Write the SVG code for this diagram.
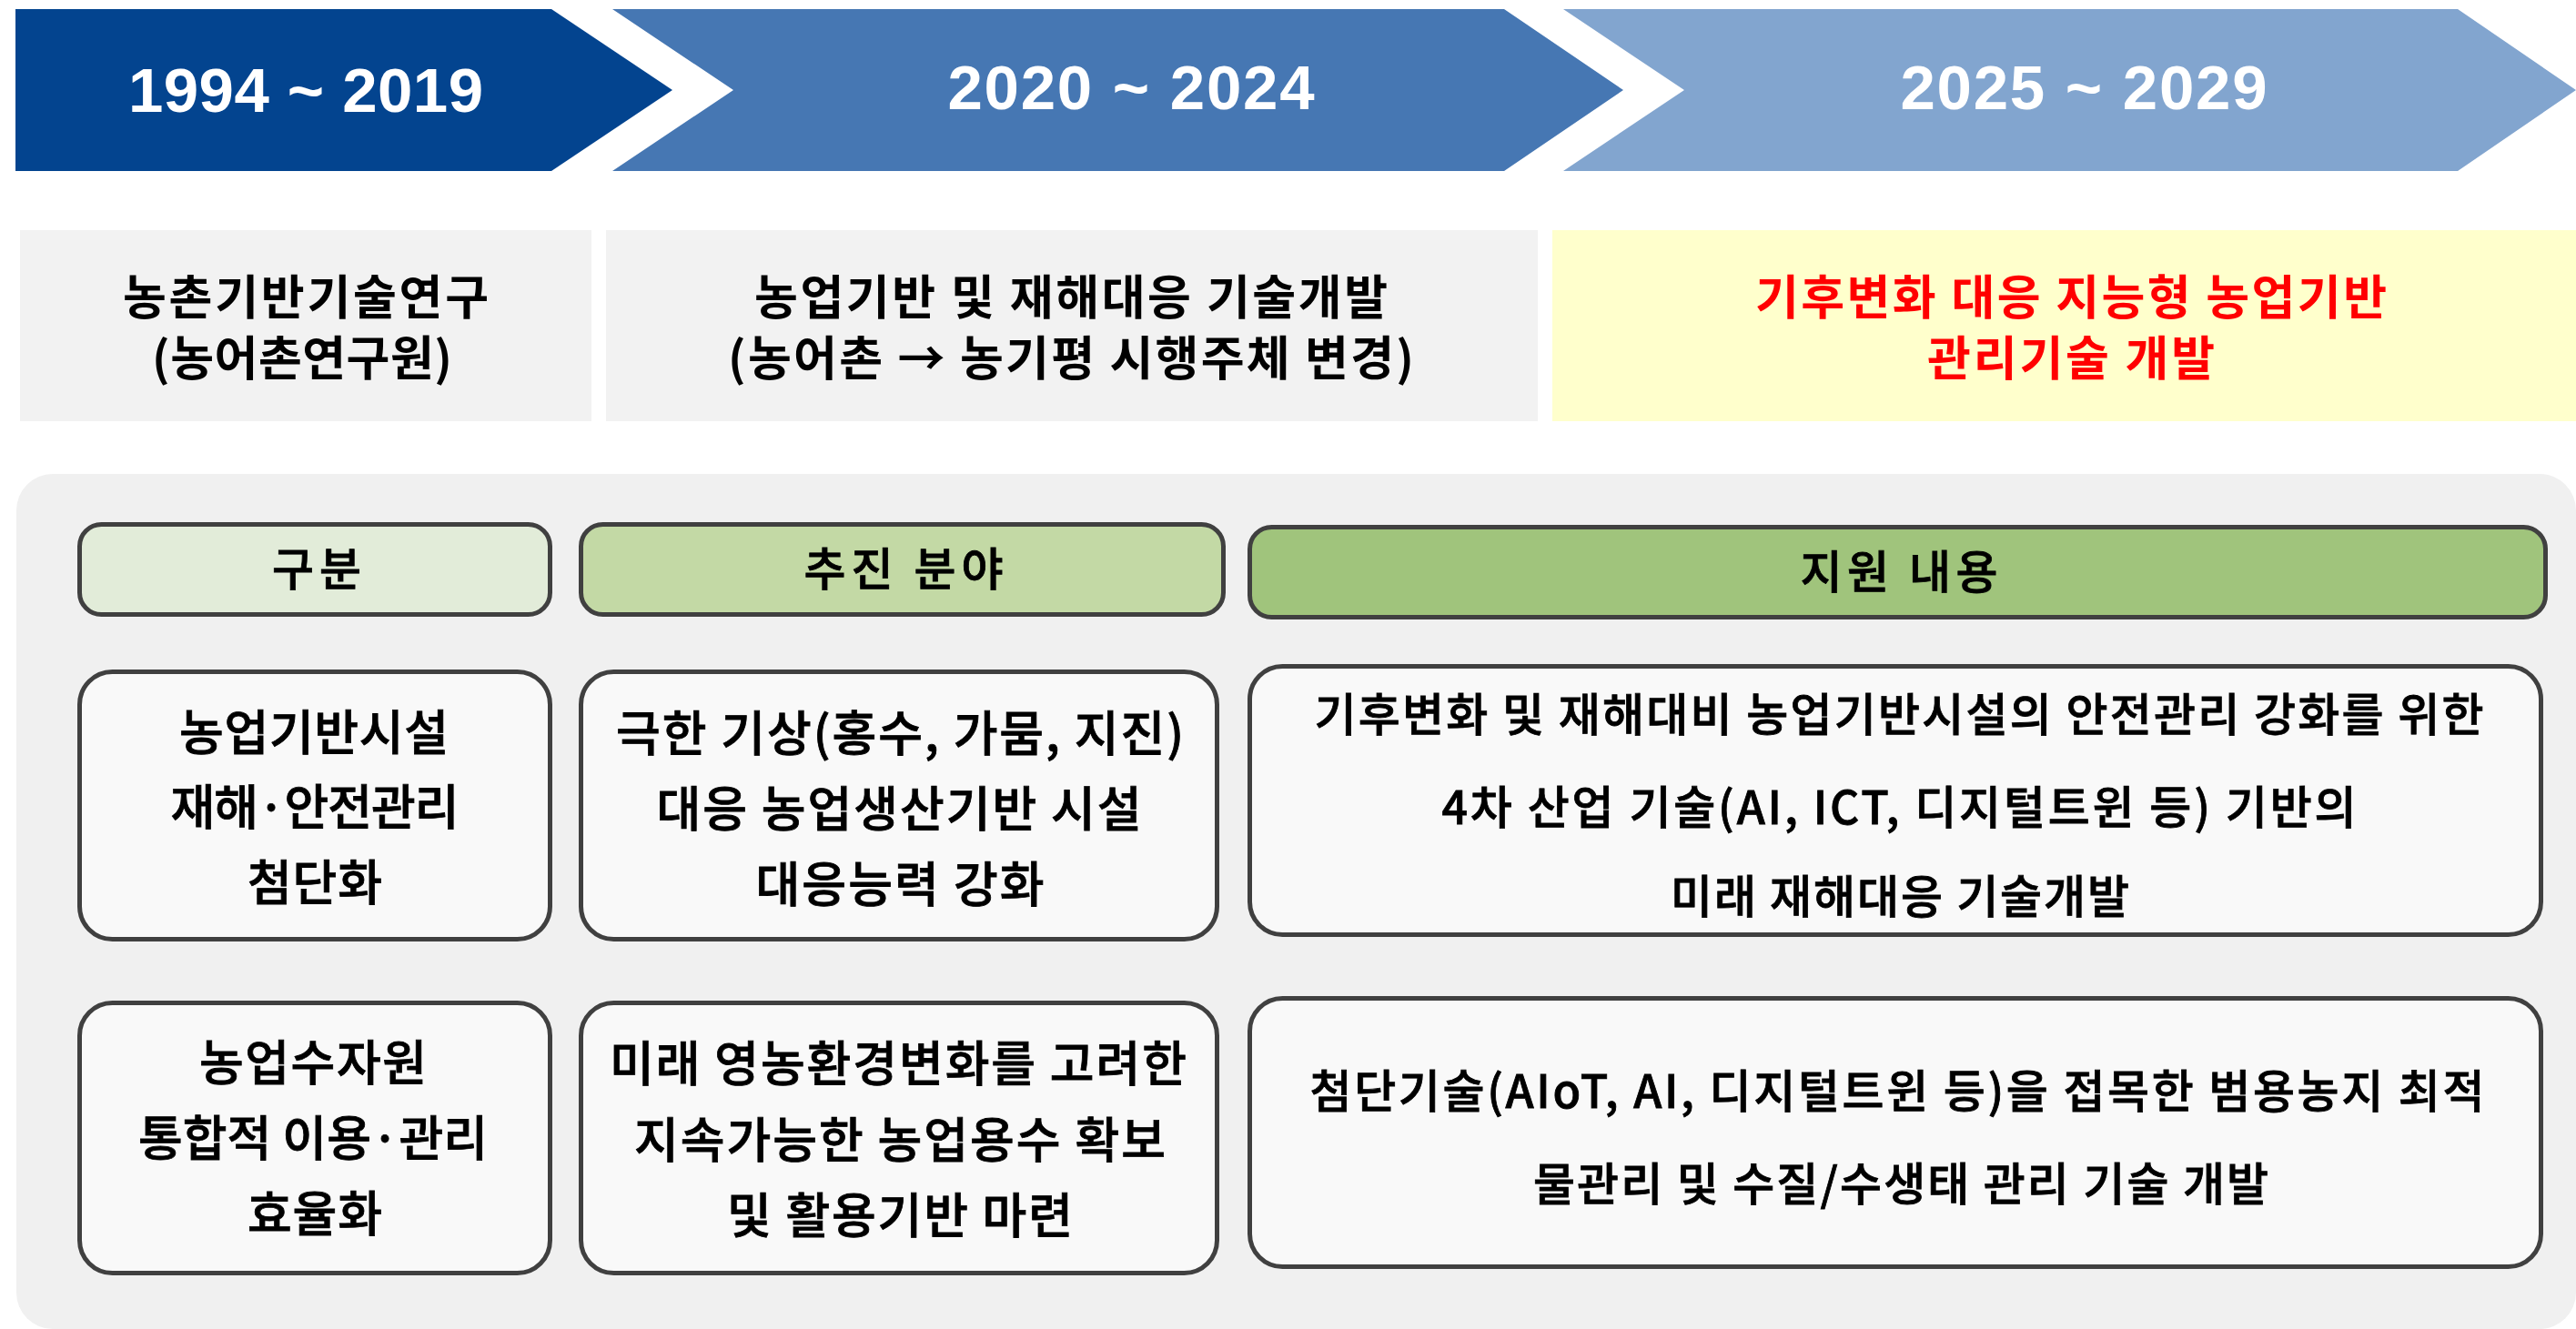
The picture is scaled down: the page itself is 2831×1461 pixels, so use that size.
<svg xmlns="http://www.w3.org/2000/svg" width="2831" height="1461" viewBox="0 0 2831 1461">
<style>
.yr{font-family:"Liberation Sans",Arial,sans-serif;font-weight:700;font-size:69px;fill:#FFFFFF;text-anchor:middle}
.kr{font-family:"Noto Sans CJK KR","Noto Sans CJK SC",sans-serif;text-anchor:middle;fill:#000000}
.t2{font-weight:700;font-size:52px}
.red{fill:#FF0000}
.hd{font-weight:500;font-size:50px;stroke:#000000;stroke-width:0.8}
.bd{font-weight:500;font-size:53px;stroke:#000000;stroke-width:0.8}
.bc{font-weight:500;font-size:50px;stroke:#000000;stroke-width:0.8}
.box{stroke:#404040;stroke-width:5}
.hbox{stroke:#404040;stroke-width:5}
</style>
<rect x="0" y="0" width="2831" height="1461" fill="#FFFFFF"/>
<g id="arrow-1994-2019">
<path d="M17,10 H606 L739,99 L606,188 H17 Z" fill="#03448F"/>
<text class="yr" x="336" y="123" textLength="390">1994 ~ 2019</text>
</g>
<g id="arrow-2020-2024">
<path d="M673,10 H1653 L1784,99 L1653,188 H673 L806,99 Z" fill="#4677B3"/>
<text class="yr" x="1243" y="120" textLength="403">2020 ~ 2024</text>
</g>
<g id="arrow-2025-2029">
<path d="M1718,10 H2701 L2831,99 L2701,188 H1718 L1851,99 Z" fill="#82A5CF"/>
<text class="yr" x="2290" y="120" textLength="403">2025 ~ 2029</text>
</g>
<g id="period-1">
<rect x="22" y="253" width="628" height="210" fill="#F2F2F2"/>
<text class="kr t2" x="336" y="346" textLength="402">농촌기반기술연구</text>
<text class="kr t2" x="332" y="413" textLength="330">(농어촌연구원)</text>
</g>
<g id="period-2">
<rect x="666" y="253" width="1024" height="210" fill="#F2F2F2"/>
<text class="kr t2" x="1177" y="346" textLength="696">농업기반 및 재해대응 기술개발</text>
<text class="kr t2" x="1177" y="413" textLength="754">(농어촌 → 농기평 시행주체 변경)</text>
</g>
<g id="period-3">
<rect x="1706" y="253" width="1125" height="210" fill="#FFFFCC"/>
<text class="kr t2 red" x="2276" y="346" textLength="694">기후변화 대응 지능형 농업기반</text>
<text class="kr t2 red" x="2276" y="413" textLength="316">관리기술 개발</text>
</g>
<g id="panel">
<rect x="18" y="521" width="2813" height="940" rx="40" fill="#F0F0F0"/>
</g>
<g id="header-gubun">
<rect class="hbox" x="87.5" y="576.5" width="517" height="99" rx="24" fill="#E2ECD9"/>
<text class="kr hd" x="348" y="644" textLength="98">구분</text>
</g>
<g id="header-field">
<rect class="hbox" x="638.5" y="576.5" width="706" height="99" rx="24" fill="#C3D9A5"/>
<text class="kr hd" x="993" y="644" textLength="219">추진 분야</text>
</g>
<g id="header-support">
<rect class="hbox" x="1373.5" y="579.5" width="1424" height="99" rx="24" fill="#A0C47C"/>
<text class="kr hd" x="2087" y="647" textLength="217">지원 내용</text>
</g>
<g id="row1-category">
<rect class="box" x="87.5" y="738.5" width="517" height="294" rx="36" fill="#F9F9F9"/>
<text class="kr bd" x="345" y="825" textLength="296">농업기반시설</text>
<text class="kr bd" x="346" y="907" textLength="317">재해·안전관리</text>
<text class="kr bd" x="346" y="990" textLength="148">첨단화</text>
</g>
<g id="row1-field">
<rect class="box" x="638.5" y="738.5" width="699" height="294" rx="36" fill="#F9F9F9"/>
<text class="kr bd" x="989" y="826" textLength="624">극한 기상(홍수, 가뭄, 지진)</text>
<text class="kr bd" x="988" y="909" textLength="533">대응 농업생산기반 시설</text>
<text class="kr bd" x="989" y="992" textLength="317">대응능력 강화</text>
</g>
<g id="row1-support">
<rect class="box" x="1373.5" y="732.5" width="1419" height="295" rx="36" fill="#F9F9F9"/>
<text class="kr bc" x="2087" y="804" textLength="1285">기후변화 및 재해대비 농업기반시설의 안전관리 강화를 위한</text>
<text class="kr bc" x="2087" y="906" textLength="1005">4차 산업 기술(AI, ICT, 디지털트윈 등) 기반의</text>
<text class="kr bc" x="2088" y="1004" textLength="504">미래 재해대응 기술개발</text>
</g>
<g id="row2-category">
<rect class="box" x="87.5" y="1102.5" width="517" height="297" rx="36" fill="#F9F9F9"/>
<text class="kr bd" x="344" y="1188" textLength="250">농업수자원</text>
<text class="kr bd" x="344" y="1271" textLength="384">통합적 이용·관리</text>
<text class="kr bd" x="346" y="1354" textLength="148">효율화</text>
</g>
<g id="row2-field">
<rect class="box" x="638.5" y="1102.5" width="699" height="297" rx="36" fill="#F9F9F9"/>
<text class="kr bd" x="987" y="1189" textLength="634">미래 영농환경변화를 고려한</text>
<text class="kr bd" x="989" y="1273" textLength="584">지속가능한 농업용수 확보</text>
<text class="kr bd" x="989" y="1356" textLength="380">및 활용기반 마련</text>
</g>
<g id="row2-support">
<rect class="box" x="1373.5" y="1097.5" width="1419" height="295" rx="36" fill="#F9F9F9"/>
<text class="kr bc" x="2085" y="1218" textLength="1291">첨단기술(AIoT, AI, 디지털트윈 등)을 접목한 범용농지 최적</text>
<text class="kr bc" x="2089" y="1320" textLength="808">물관리 및 수질/수생태 관리 기술 개발</text>
</g>
<g id="connectors"/>
</svg>
